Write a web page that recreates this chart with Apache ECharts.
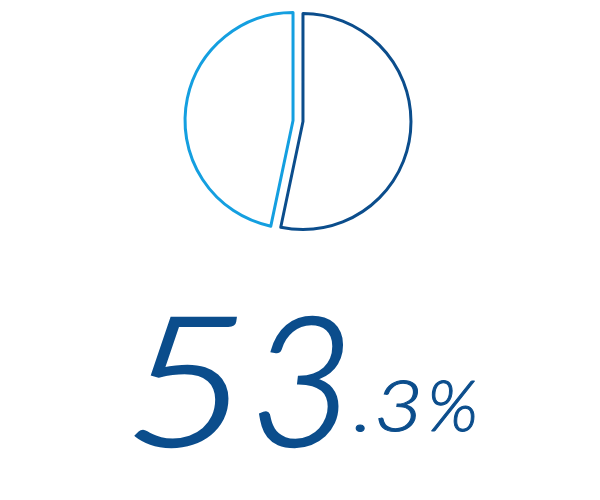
<!DOCTYPE html>
<html>
<head>
<meta charset="utf-8">
<script src="https://cdn.jsdelivr.net/npm/echarts@6/dist/echarts.min.js"></script>
<style>
  html, body { margin: 0; padding: 0; background: #fff; }
  #chart { width: 600px; height: 500px; }
</style>
</head>
<body>
<div id="chart"></div>
<script>
// slice data
const sliceNames = ['A', 'B'];
const sliceValues = [53.3, 46.7];
const sliceColors = ['#0b4d8c', '#149fe0'];

const share = sliceValues[0];
const bigText = String(Math.floor(share));            // "53"
const smallText = '.' + String(share).split('.')[1] + '%'; // ".3%"

const chart = echarts.init(document.getElementById('chart'));

// per-character placement [x, scaleX]
const bigPos = [[124, 1.2], [250, 1.0]];
const smallPos = [[353, 1.2], [374, 1.2], [427, 1.0]];

const graphic = [];
bigText.split('').forEach((ch, i) => {
  graphic.push({
    type: 'text',
    x: bigPos[i][0],
    y: 298,
    scaleX: bigPos[i][1],
    style: {
      text: ch,
      font: 'italic 300 180px Lato',
      fill: '#0b4d8c',
      stroke: '#0b4d8c',
      lineWidth: 2.5,
      align: 'left',
      verticalAlign: 'top'
    }
  });
});
smallText.split('').forEach((ch, i) => {
  graphic.push({
    type: 'text',
    x: smallPos[i][0],
    y: 373,
    scaleX: smallPos[i][1],
    style: {
      text: ch,
      font: 'italic 300 71px Lato',
      fill: '#0b4d8c',
      stroke: '#0b4d8c',
      lineWidth: 1,
      align: 'left',
      verticalAlign: 'top'
    }
  });
});

const option = {
  backgroundColor: '#fff',
  animation: false,
  graphic: graphic,
  series: [{
    type: 'pie',
    center: [298, 121],
    radius: 108,
    startAngle: 90,
    clockwise: true,
    selectedMode: 'multiple',
    selectedOffset: 5,
    label: { show: false },
    labelLine: { show: false },
    emphasis: { disabled: true },
    data: sliceNames.map((n, i) => ({
      name: n,
      value: sliceValues[i],
      selected: true,
      itemStyle: { color: '#fff', borderColor: sliceColors[i], borderWidth: 3 }
    }))
  }]
};

chart.setOption(option);
window.addEventListener('resize', () => chart.resize());
</script>
</body>
</html>
